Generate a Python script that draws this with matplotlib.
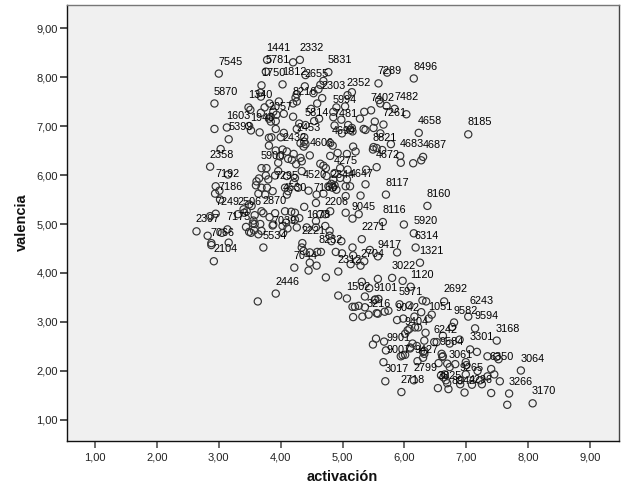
import matplotlib
matplotlib.use('Agg')
import matplotlib.pyplot as plt

activacion = [
    3.00, 2.93, 2.93, 3.13, 3.16, 3.03, 2.86, 3.15, 2.95, 2.94, 3.01, 3.02,
    3.78, 4.20, 4.31, 4.77, 3.76, 4.03, 4.40, 3.69, 4.39, 4.69, 4.64, 4.61, 4.67,
    4.26, 4.24, 4.53, 3.67, 3.68, 3.48, 3.51, 3.82, 3.97, 3.74, 3.68, 3.88, 3.93,
    4.05, 4.20, 4.26, 4.20, 3.84, 3.81, 3.84, 3.92, 4.59, 4.49, 4.62, 4.54, 4.30,
    4.40, 4.26, 3.92, 4.05, 3.49, 3.52, 3.66, 3.81, 3.85, 4.00, 3.81, 4.38, 4.38,
    4.40, 4.37, 4.32, 4.80, 4.84, 5.17, 5.21, 4.92, 5.07, 4.80, 4.47, 4.32, 4.21,
    4.03, 4.10, 3.92, 3.99, 4.12, 4.18, 4.25, 4.34, 3.96, 4.64, 4.69, 4.73, 4.34,
    3.96, 3.77, 3.69, 3.91, 3.76, 3.80, 3.65, 3.61, 3.60, 3.69, 3.78, 3.64, 3.75,
    3.87, 4.10, 4.23, 4.21, 4.07, 4.12, 4.10, 4.28, 4.45, 4.58, 4.69, 4.77, 4.82,
    4.87, 4.84, 4.90, 4.85, 4.74, 4.96, 5.08, 4.87, 4.96, 5.07, 5.05, 5.12, 5.37,
    5.38, 5.55, 5.29, 5.05, 5.15, 5.08, 5.58, 4.90, 5.04, 4.85, 4.85, 4.98, 5.09,
    4.87, 5.15, 5.12, 4.99, 5.16, 5.34, 5.37, 5.50, 5.52, 5.28, 5.35, 5.46, 5.59,
    5.55, 5.50,
    2.64, 2.82, 2.86, 2.95, 3.05, 3.14, 2.88, 2.88, 3.16, 2.92, 3.31, 3.40, 3.45,
    3.49, 3.53, 3.41, 3.58, 3.69, 3.72, 3.82, 3.91, 3.56, 3.44, 3.55, 3.58, 3.67,
    3.57, 3.49, 3.52, 3.64, 3.69, 3.87, 3.88, 4.03, 4.09, 4.04, 4.11, 4.23, 4.30,
    4.26, 4.17, 4.23, 4.07, 4.42, 4.57, 4.57, 4.64, 4.72, 4.80, 4.72, 4.79, 4.79,
    4.82, 4.98, 3.72, 4.35, 4.34, 4.37, 4.59, 4.65, 4.47, 4.47, 4.58, 4.22, 4.45,
    4.73, 4.93, 4.89, 4.99, 5.16, 5.17, 5.13, 5.23, 5.29, 5.35, 5.44, 5.57, 5.31,
    5.05, 5.26, 5.16, 3.92, 3.63, 4.93, 5.07, 5.31, 5.43, 5.36, 5.52, 5.58, 5.16,
    5.20, 5.26, 5.36, 5.17, 5.32, 5.42, 5.57, 5.57, 4.57, 4.38,
    5.72, 6.15, 5.61, 5.71, 5.84, 6.03, 5.66, 5.61, 5.78, 5.49, 5.64, 5.93, 5.94,
    6.14, 6.27, 6.30, 6.23, 7.03, 5.70, 6.37, 5.65, 5.99, 6.15, 6.18, 5.88, 6.25,
    5.80, 5.97, 6.10, 5.53, 5.55, 5.68, 5.74, 5.92, 6.08, 6.29, 6.35, 6.64, 6.27,
    6.44, 6.39, 6.16, 5.88, 5.98, 6.08, 6.17, 6.22, 6.05, 6.01, 6.34, 7.03, 7.14,
    6.80, 6.77, 6.62, 7.49, 5.49, 5.54, 5.67, 6.32, 6.13, 6.20, 6.09, 6.48, 6.52,
    6.73, 6.89, 7.06, 7.17, 6.32, 6.32, 6.60, 6.62, 7.34, 7.49, 5.97, 6.01, 5.94,
    5.66, 5.70, 6.09, 6.30, 6.30, 6.21, 6.61, 6.55, 6.69, 6.73, 6.82, 6.99, 7.00,
    7.18, 7.52, 7.40, 7.45, 7.34, 7.88, 7.54, 5.69, 5.95, 6.15, 6.59, 6.63, 6.65,
    6.67, 6.69, 6.54, 6.71, 6.90, 6.90, 6.99, 7.09, 7.22, 7.25, 6.97, 7.40, 7.69,
    7.66, 8.07,
]
valencia = [
    8.07, 7.46, 6.94, 6.97, 6.73, 6.53, 6.17, 6.01, 5.77, 5.62, 5.68, 5.50,
    8.35, 8.30, 8.35, 8.10, 8.11, 7.85, 8.04, 7.83, 7.81, 7.92, 7.84, 7.75, 7.57,
    7.65, 7.58, 7.67, 7.68, 7.60, 7.38, 7.33, 7.46, 7.50, 7.38, 7.27, 7.29, 7.23,
    7.25, 7.46, 7.50, 7.19, 7.19, 7.15, 7.09, 7.10, 7.46, 7.35, 7.15, 7.10, 7.05,
    7.02, 6.94, 6.94, 6.86, 7.00, 6.91, 6.87, 6.76, 6.77, 6.77, 6.60, 6.77, 6.68,
    6.63, 6.58, 6.65, 6.65, 6.60, 6.58, 6.48, 6.45, 6.43, 6.39, 6.40, 6.35, 6.43,
    6.52, 6.48, 6.50, 6.38, 6.33, 6.31, 6.22, 6.28, 6.25, 6.23, 6.19, 6.14, 6.08,
    6.08, 6.14, 6.14, 5.99, 5.99, 5.91, 5.93, 5.87, 5.79, 5.74, 5.74, 5.62, 5.60,
    5.67, 5.98, 5.94, 5.84, 5.74, 5.67, 5.60, 5.74, 5.68, 5.60, 5.62, 5.77, 5.82,
    5.79, 5.74, 5.70, 5.91, 5.98, 6.14, 6.11, 6.04, 5.94, 5.91, 5.77, 5.77, 5.81,
    6.11, 6.16, 5.58, 5.57, 7.69, 7.63, 7.87, 7.38, 7.40, 7.29, 7.18, 7.13, 7.02,
    7.01, 6.96, 6.92, 6.85, 6.89, 6.94, 6.92, 6.96, 7.09, 7.15, 7.29, 7.32, 7.53,
    6.55, 6.57,
    4.85, 4.76, 5.16, 5.21, 4.82, 4.89, 4.61, 4.57, 4.62, 4.24, 5.20, 5.30, 5.26,
    5.40, 5.37, 5.23, 5.18, 5.26, 5.22, 5.14, 5.22, 5.07, 4.94, 5.01, 5.00, 5.00,
    4.87, 4.84, 4.82, 4.79, 4.86, 4.97, 4.99, 4.96, 5.03, 4.82, 4.91, 5.09, 5.12,
    4.93, 5.25, 5.23, 5.26, 4.93, 4.93, 5.06, 5.20, 5.20, 5.26, 4.96, 4.86, 4.76,
    4.65, 4.65, 4.52, 4.61, 4.52, 4.45, 4.43, 4.43, 4.42, 4.21, 4.15, 4.11, 4.05,
    3.91, 4.03, 4.43, 4.40, 4.52, 4.36, 4.18, 4.25, 4.15, 4.24, 4.47, 4.34, 4.69,
    5.23, 5.20, 5.11, 3.58, 3.42, 3.54, 3.48, 3.82, 3.69, 3.52, 3.45, 3.47, 3.31,
    3.31, 3.33, 3.30, 3.10, 3.11, 3.15, 3.17, 3.88, 5.43, 5.35,
    8.09, 7.97, 7.46, 7.41, 7.35, 7.24, 7.03, 6.85, 6.63, 6.52, 6.51, 6.39, 6.25,
    6.24, 6.30, 6.37, 6.86, 6.83, 5.60, 5.37, 5.04, 4.99, 4.81, 4.52, 4.42, 4.21,
    3.90, 3.84, 3.72, 3.46, 3.18, 3.21, 3.23, 3.36, 3.34, 3.44, 3.42, 3.42, 3.20,
    3.15, 3.07, 3.11, 3.04, 3.07, 2.86, 2.89, 2.89, 2.83, 2.76, 2.78, 3.11, 2.87,
    2.99, 2.90, 2.72, 2.62, 2.54, 2.66, 2.60, 2.62, 2.56, 2.51, 2.48, 2.59, 2.59,
    2.56, 2.64, 2.44, 2.39, 2.41, 2.35, 2.35, 2.30, 2.30, 2.29, 2.32, 2.33, 2.30,
    2.18, 2.42, 2.46, 2.39, 2.27, 2.20, 2.29, 2.16, 2.15, 2.08, 2.14, 2.18, 2.12,
    2.00, 2.24, 2.04, 1.93, 1.89, 2.01, 1.79, 1.79, 1.57, 1.81, 1.91, 1.87, 1.93,
    1.81, 1.75, 1.65, 1.63, 1.73, 1.81, 1.93, 1.72, 1.81, 1.73, 1.56, 1.55, 1.54,
    1.31, 1.34,
]

casos = [
    '1441', '2332', '7545', '5781', '5831', '1750', '1812', '2655', '5870', '2303',
    '2352', '8216', '1340', '5994', '2057', '5814', '7481', '1603', '1946', '5399',
    '2453', '4694', '2432', '4606', '2358', '5900', '4275', '7192', '7295', '4520',
    '2344', '4647', '7186', '4530', '7160', '7249', '2506', '2870', '2206', '9045',
    '2397', '7175', '1678', '7039', '2271', '2221', '7066', '5534', '8232', '2104',
    '7044', '2704', '2312', '2446', '1502', '7289', '8496', '7402', '7482', '7261',
    '4658', '8185', '8821', '4683', '4687', '4672', '8117', '8160', '8116', '5920',
    '6314', '9417', '1321', '3022', '1120', '9101', '5971', '2692', '6243', '9582',
    '9594', '3216', '9042', '1051', '9404', '6242', '3168', '3301', '9901', '9584',
    '9007', '9427', '3061', '6350', '3064', '3017', '2799', '9265', '3825', '8942',
    '4296', '3266', '2718', '3170',
]
caso_x = [
    3.78, 4.31, 3.00, 3.76, 4.77, 3.69, 4.03, 4.39, 2.93, 4.67,
    5.08, 4.20, 3.48, 4.85, 3.81, 4.40, 4.87, 3.13, 3.52, 3.16,
    4.26, 4.84, 4.03, 4.47, 2.86, 3.69, 4.87, 2.95, 3.91, 4.37,
    4.82, 5.12, 3.01, 4.04, 4.54, 2.95, 3.31, 3.72, 4.72, 5.16,
    2.64, 3.14, 4.42, 3.88, 5.31, 4.35, 2.88, 3.72, 4.62, 2.92,
    4.22, 5.30, 4.93, 3.92, 5.07, 5.58, 6.15, 5.46, 5.84, 5.66,
    6.23, 7.03, 5.49, 5.93, 6.30, 5.55, 5.70, 6.37, 5.65, 6.15,
    6.17, 5.58, 6.25, 5.80, 6.10, 5.51, 5.92, 6.64, 7.06, 6.80,
    7.14, 5.40, 5.87, 6.39, 6.01, 6.47, 7.49, 7.06, 5.71, 6.57,
    5.71, 6.17, 6.72, 7.39, 7.88, 5.69, 6.15, 6.90, 6.54, 6.76,
    7.04, 7.69, 5.95, 8.07,
]
caso_y = [
    8.35, 8.35, 8.07, 8.11, 8.10, 7.83, 7.85, 7.81, 7.46, 7.57,
    7.63, 7.46, 7.38, 7.29, 7.15, 7.02, 7.01, 6.97, 6.91, 6.73,
    6.72, 6.65, 6.52, 6.40, 6.17, 6.14, 6.04, 5.77, 5.74, 5.76,
    5.76, 5.77, 5.51, 5.49, 5.49, 5.21, 5.21, 5.23, 5.20, 5.11,
    4.85, 4.89, 4.93, 4.82, 4.69, 4.61, 4.57, 4.52, 4.42, 4.24,
    4.11, 4.15, 4.03, 3.58, 3.48, 7.87, 7.97, 7.32, 7.35, 7.03,
    6.86, 6.83, 6.52, 6.39, 6.37, 6.16, 5.60, 5.37, 5.04, 4.81,
    4.52, 4.33, 4.21, 3.90, 3.72, 3.46, 3.36, 3.42, 3.19, 2.99,
    2.87, 3.13, 3.04, 3.07, 2.76, 2.60, 2.62, 2.44, 2.42, 2.35,
    2.18, 2.19, 2.08, 2.04, 2.01, 1.79, 1.81, 1.81, 1.65, 1.56,
    1.57, 1.54, 1.57, 1.34,
]

ticks = [1, 2, 3, 4, 5, 6, 7, 8, 9]
tick_labels = ['1,00', '2,00', '3,00', '4,00', '5,00', '6,00', '7,00', '8,00', '9,00']

plt.rcParams['font.family'] = ['Liberation Sans', 'DejaVu Sans']

fig = plt.figure(figsize=(6.26, 5.01), dpi=100, facecolor='white')
ax = fig.add_axes([67 / 626, 60 / 501, 551.5 / 626, 436 / 501], facecolor='#f0f0f0')

ax.scatter(activacion, valencia, s=27, facecolors='none', edgecolors='#333333',
           linewidths=0.85, zorder=2)

# cada etiqueta va arriba a la derecha de su punto
for caso, x, y in zip(casos, caso_x, caso_y):
    ax.annotate(caso, (x, y), xytext=(8.3, 8.6), textcoords='offset points',
                ha='center', va='center', fontsize=7.8, color='black', zorder=3)

ax.set_xlim(0.548, 9.457)
ax.set_ylim(0.571, 9.47)
ax.set_xticks(ticks)
ax.set_xticklabels(tick_labels)
ax.set_yticks(ticks)
ax.set_yticklabels(tick_labels)
ax.tick_params(axis='x', length=5, width=1.1, color='#444444', labelsize=8, pad=3.5, labelcolor='#222222')
ax.tick_params(axis='y', length=5, width=1.1, color='#222222', labelsize=8, pad=1.5, labelcolor='#222222')

ax.spines['left'].set_color('#111111')
ax.spines['bottom'].set_color('#111111')
ax.spines['top'].set_color('#777777')
ax.spines['right'].set_color('#444444')
for s in ax.spines.values():
    s.set_linewidth(1.0)

fig.text(342 / 626, 1 - 477 / 501, 'activación', fontsize=10.5, fontweight='bold',
         ha='center', va='center', color='#111111')
fig.text(22 / 626, 1 - 222 / 501, 'valencia', fontsize=10.5, fontweight='bold',
         rotation=90, ha='center', va='center', color='#111111')

fig.savefig('out.png', dpi=100)
